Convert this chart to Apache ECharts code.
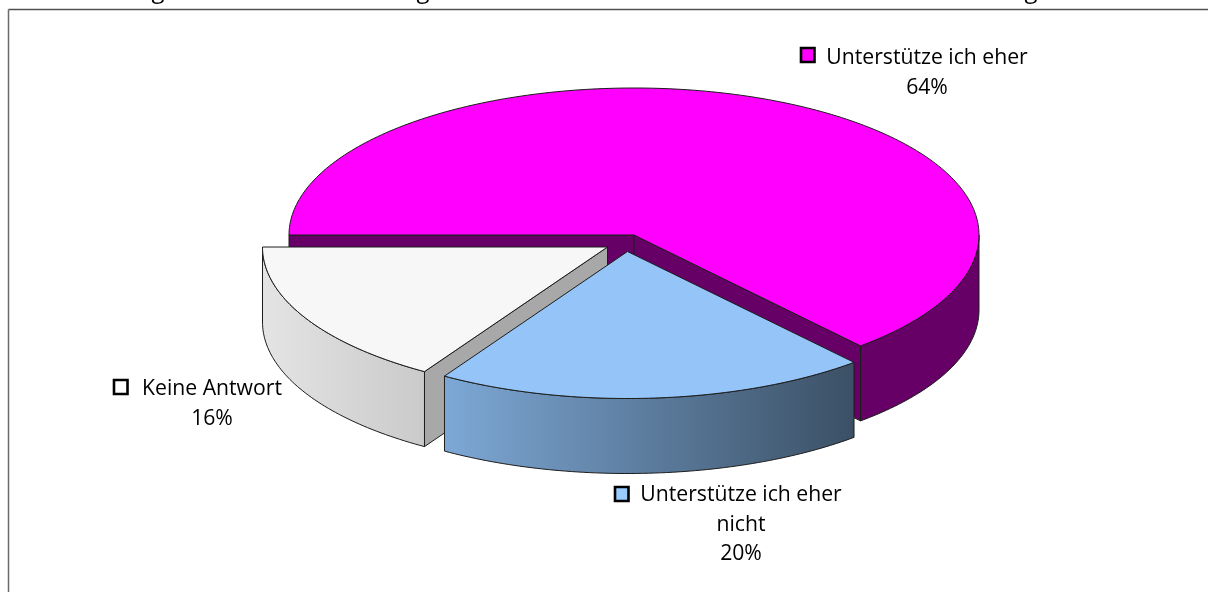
<!DOCTYPE html>
<html lang="de">
<head>
    <meta charset="utf-8">
    <title>Unterstützung</title>
    <script src="https://cdn.jsdelivr.net/npm/echarts@6/dist/echarts.min.js"></script>
    <style type="text/css">
        html, body { width: 100%; height: 100%; margin: 0; padding: 0; background: #fff; }
        #main { width: 1208px; height: 592px; }
    </style>
</head>
<body>
<div id="main"></div>
<script>
    // clockwise from the 9 o'clock position
    var categories = ['Unterstütze ich eher', 'Unterstütze ich eher nicht', 'Keine Antwort'];
    var labelTexts = ['Unterstütze ich eher', 'Unterstütze ich eher\nnicht', 'Keine Antwort'];
    var percentLabels = ['64%', '20%', '16%'];
    var shares = [63.6, 20.3, 16.1];

    var cx = 634, cy = 235, rx = 345, ry = 147, depth = 75, startAngle = 270;
    var FONT = '"Open Sans", "Noto Sans", sans-serif';

    // one entry per slice, same order as categories
    var explode = [[0, 0], [-6.5, 16.5], [-26.5, 12]];
    var drawOrder = [0, 2, 1];
    var topColors = ['#ff00ff', '#95c5f8', '#f7f7f7'];
    var wallColors = [['#660066', '#660066'], ['#7da8d6', '#3b5065'], ['#e4e4e4', '#cacaca']];
    var cutColors = ['#660066', '#5a7a9c', '#a8a8a8'];
    var keyColors = ['#ff00ff', '#99ccff', '#ffffff'];
    var labelBoxes = [
        { x: 927, y: 58.5, keyX: 801, keyY: 48 },
        { x: 741, y: 495.5, keyX: 615, keyY: 487 },
        { x: 212, y: 389.5, keyX: 114, keyY: 380 }
    ];
    // bottoms of the cut off heading line above the frame
    var headingTails = [158, 423, 1031];

    function pt(t, off, drop) {
        var a = t * Math.PI / 180;
        return [cx + off[0] + rx * Math.sin(a), cy + off[1] - ry * Math.cos(a) + (drop || 0)];
    }

    function arc(t0, t1, off, drop) {
        var pts = [], n = Math.max(2, Math.ceil(Math.abs(t1 - t0)));
        for (var i = 0; i <= n; i++) {
            pts.push(pt(t0 + (t1 - t0) * i / n, off, drop));
        }
        return pts;
    }

    function poly(points, fill, z2) {
        return {
            type: 'polygon',
            z2: z2,
            shape: { points: points },
            style: { fill: fill, stroke: '#1c1c1c', lineWidth: 1 }
        };
    }

    function renderSlice(params, api) {
        var idx = params.dataIndex;
        var before = 0;
        for (var i = 0; i < idx; i++) before += shares[i];
        var t0 = startAngle + before * 3.6;
        var t1 = t0 + api.value(0) * 3.6;
        var off = explode[idx];
        var z = drawOrder.indexOf(idx) * 10 + 1;
        var apex = [cx + off[0], cy + off[1]];
        var apexLow = [apex[0], apex[1] + depth];
        var children = [];

        // cut faces, only the ones turned towards the viewer
        [[t0, -Math.sin(t0 * Math.PI / 180)], [t1, Math.sin(t1 * Math.PI / 180)]].forEach(function (e) {
            if (e[1] > 1e-6) {
                children.push(poly([apex, pt(e[0], off), pt(e[0], off, depth), apexLow], cutColors[idx], z));
            }
        });

        // rim, front half of the ellipse only
        [0, 360].forEach(function (k) {
            var a0 = Math.max(t0, 90 + k), a1 = Math.min(t1, 270 + k);
            if (a1 > a0) {
                var rim = arc(a0, a1, off).concat(arc(a1, a0, off, depth));
                children.push(poly(rim, new echarts.graphic.LinearGradient(0, 0, 1, 0, [
                    { offset: 0, color: wallColors[idx][0] },
                    { offset: 1, color: wallColors[idx][1] }
                ]), z + 1));
            }
        });

        children.push(poly([apex].concat(arc(t0, t1, off)), topColors[idx], z + 2));

        var box = labelBoxes[idx];
        children.push({
            type: 'rect',
            z2: 50,
            shape: { x: box.keyX, y: box.keyY, width: 13.5, height: 14 },
            style: { fill: keyColors[idx], stroke: '#000', lineWidth: 2.6 }
        });
        children.push({
            type: 'text',
            z2: 50,
            style: {
                x: box.x, y: box.y - 15,
                text: labelTexts[idx] + '\n' + percentLabels[idx],
                fill: '#000',
                font: '21.2px ' + FONT,
                lineHeight: 29.5,
                align: 'center',
                verticalAlign: 'top'
            }
        });
        return { type: 'group', children: children };
    }

    var myChart = echarts.init(document.getElementById('main'), null, { renderer: 'canvas' });
    myChart.setOption({
        animation: false,
        backgroundColor: '#fff',
        graphic: [
            { type: 'line', shape: { x1: 8.5, y1: 9.5, x2: 1208, y2: 9.5 }, style: { stroke: '#505050', lineWidth: 1.5 } },
            { type: 'line', shape: { x1: 8.5, y1: 9.5, x2: 8.5, y2: 592 }, style: { stroke: '#6a6a6a', lineWidth: 1.5 } }
        ].concat(headingTails.map(function (x) {
            return {
                type: 'text',
                style: { x: x, y: 3, text: 'g', fill: '#000', font: '24px ' + FONT, align: 'center', verticalAlign: 'bottom' }
            };
        })),
        series: [{
            type: 'custom',
            coordinateSystem: 'none',
            renderItem: renderSlice,
            data: shares.map(function (v, i) { return { name: categories[i], value: [v] }; })
        }]
    });
</script>
</body>
</html>
